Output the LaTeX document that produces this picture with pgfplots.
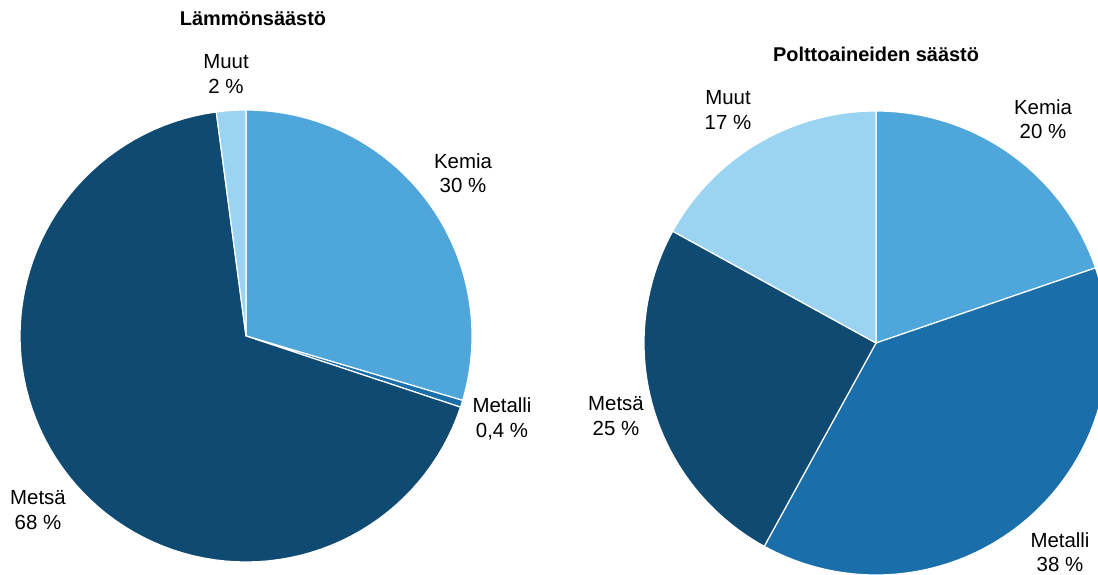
\documentclass[border=0pt]{standalone}
\usepackage{pgfplots}
\pgfplotsset{compat=1.18}
\usepackage{fontspec}
\setmainfont{Liberation Sans}
\definecolor{cKemia}{HTML}{4FA6DB}
\definecolor{cMetalli}{HTML}{1A6FAA}
\definecolor{cMetsa}{HTML}{0F4A73}
\definecolor{cMuut}{HTML}{9BD4F2}
\tikzset{lbl/.style={font=\fontsize{20.5}{24.5}\selectfont, align=center, inner sep=0pt},
  ttl/.style={font=\fontsize{20}{23}\selectfont\bfseries, inner sep=0pt}}
% slice: cx, cy, r, start %, end %, colour (clockwise from 12 o'clock)
\newcommand\slice[6]{%
  \addplot[fill=#6, draw=white, line width=1.2pt, domain={90-3.6*(#5)}:{90-3.6*(#4)},
    samples=90, variable=\t] ({#1+#3*cos(\t)},{#2+#3*sin(\t)}) -- (axis cs:#1,#2) -- cycle;}
\begin{document}
\begin{tikzpicture}
\begin{axis}[name=a, scale only axis, width=1098bp, height=575bp,
  xmin=0, xmax=1098, ymin=0, ymax=575, hide axis, clip=true]
% Lämmönsäästö: Kemia 29.6, Metalli 0.5, Metsä 67.8, Muut 2.1
\slice{246}{239}{226}{0}{29.6}{cKemia}
\slice{246}{239}{226}{29.6}{30.1}{cMetalli}
\slice{246}{239}{226}{30.1}{97.9}{cMetsa}
\slice{246}{239}{226}{97.9}{100}{cMuut}
% Polttoaineiden säästö: Kemia 19.75, Metalli 38.25, Metsä 25, Muut 17
\slice{876}{232}{232}{0}{19.75}{cKemia}
\slice{876}{232}{232}{19.75}{58}{cMetalli}
\slice{876}{232}{232}{58}{83}{cMetsa}
\slice{876}{232}{232}{83}{100}{cMuut}
\node[ttl] at (axis cs:253,556) {Lämmönsäästö};
\node[ttl] at (axis cs:876,521) {Polttoaineiden säästö};
\node[lbl] at (axis cs:226,501) {Muut\\2 \%};
\node[lbl] at (axis cs:463,402) {Kemia\\30 \%};
\node[lbl] at (axis cs:502,156) {Metalli\\0,4 \%};
\node[lbl] at (axis cs:38,65) {Metsä\\68 \%};
\node[lbl] at (axis cs:728,465) {Muut\\17 \%};
\node[lbl] at (axis cs:1043,456) {Kemia\\20 \%};
\node[lbl] at (axis cs:616,159) {Metsä\\25 \%};
\node[lbl] at (axis cs:1060,23) {Metalli\\38 \%};
\end{axis}
\pgfresetboundingbox
\path (a.south west) rectangle (a.north east);
\end{tikzpicture}
\end{document}
